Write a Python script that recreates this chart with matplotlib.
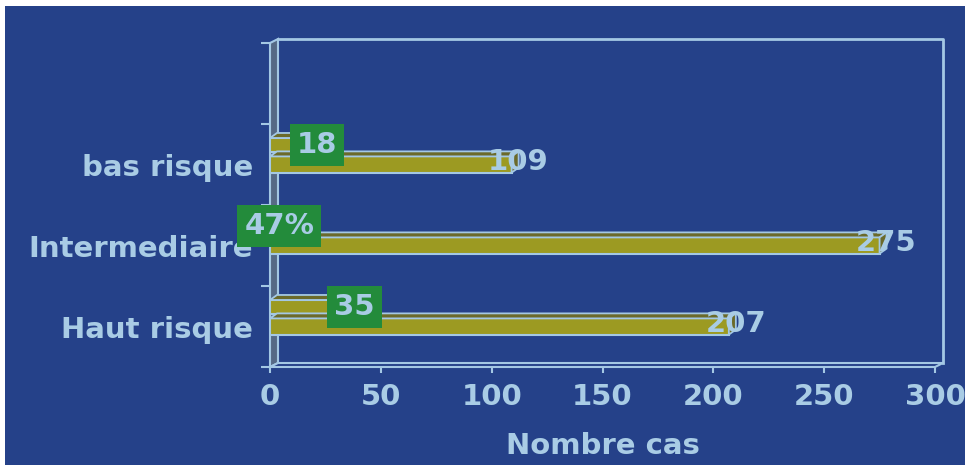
import numpy as np
import matplotlib
matplotlib.use("Agg")
import matplotlib.pyplot as plt
from matplotlib.patches import Polygon, Rectangle

# ---- data ----
categories = ["Haut risque", "Intermediaire", "bas risque"]
totals = [207, 275, 109]
sub_values = [35, 1, 18]
sub_labels = ["35", "47%", "18"]
xticks = [0, 50, 100, 150, 200, 250, 300]
xlabel = "Nombre cas"

# ---- style ----
BG = "#254189"
LINE = "#a4c8e4"
TXT = "#a9cce5"
OLIVE = "#9c9a22"
OLIVE_DK = "#6b6a2a"
GREEN = "#238b3b"
WALL = "#566a86"

plt.rcParams["font.family"] = ["DejaVu Sans"]
plt.rcParams["font.weight"] = "bold"

W, H = 965, 465
fig = plt.figure(figsize=(W / 100, H / 100), dpi=100, facecolor=BG)
fig.patches.append(Rectangle((0, 1 - 6 / H), 1, 6 / H, transform=fig.transFigure,
                             facecolor="white", edgecolor="none", zorder=10))
fig.patches.append(Rectangle((0, 0), 5 / W, 1, transform=fig.transFigure,
                             facecolor="white", edgecolor="none", zorder=10))

ax = fig.add_axes([270 / W, (H - 367) / H, (935 - 270) / W, (367 - 43) / H])
ax.set_xlim(0, 300)
ax.set_ylim(-0.5, len(categories) + 0.5)
ax.patch.set_visible(False)
for s in ax.spines.values():
    s.set_visible(False)


def off(x, y, dx, dy):
    px, py = ax.transData.transform((x, y))
    return tuple(ax.transData.inverted().transform((px + dx, py + dy)))


# ---- 3D frame ----
DX, DY = 8, 4
x0, x1 = ax.get_xlim()
y0, y1 = ax.get_ylim()
lw_poly = Polygon([(x0, y0), (x0, y1), off(x0, y1, DX, DY), off(x0, y0, DX, DY)],
                  closed=True, facecolor=WALL, edgecolor=LINE, lw=1.5, zorder=1, clip_on=False)
ax.add_patch(lw_poly)
fl_poly = Polygon([(x0, y0), (x1, y0), off(x1, y0, DX, DY), off(x0, y0, DX, DY)],
                  closed=True, facecolor=BG, edgecolor=LINE, lw=1.5, zorder=1, clip_on=False)
ax.add_patch(fl_poly)
bl = off(x0, y1, DX, DY)
tr = off(x1, y1, DX, DY)
br = off(x1, y0, DX, DY)
ax.plot([bl[0], tr[0], br[0]], [bl[1], tr[1], br[1]], color=LINE, lw=2, zorder=1, clip_on=False)

# ---- bars ----
pos = np.arange(len(categories))
main = ax.barh(pos, totals, height=0.2, color=OLIVE, edgecolor=LINE, lw=1.5, zorder=3)
sub = ax.barh(pos + 0.24, sub_values, height=0.175, color=OLIVE, edgecolor=LINE, lw=1.5, zorder=2)

BDX, BDY = 7, 5
for bars, z in ((sub, 2), (main, 3)):
    for r in bars:
        bx0, by0 = r.get_x(), r.get_y()
        bx1, by1 = bx0 + r.get_width(), by0 + r.get_height()
        top = Polygon([(bx0, by1), (bx1, by1), off(bx1, by1, BDX, BDY), off(bx0, by1, BDX, BDY)],
                      closed=True, facecolor=OLIVE_DK, edgecolor=LINE, lw=1.3, zorder=z)
        side = Polygon([(bx1, by0), (bx1, by1), off(bx1, by1, BDX, BDY), off(bx1, by0, BDX, BDY)],
                       closed=True, facecolor=OLIVE_DK, edgecolor=LINE, lw=1.3, zorder=z)
        ax.add_patch(top)
        ax.add_patch(side)

FS = 21
for r, v in zip(main, totals):
    ax.annotate(str(v), (v, r.get_y() + r.get_height() / 2), xytext=(5, 2),
                textcoords="offset points", ha="center", va="center",
                color=TXT, fontsize=FS, fontweight="bold", zorder=6)
for r, lab in zip(sub, sub_labels):
    ax.annotate(lab, (r.get_width(), r.get_y() + r.get_height() / 2), xytext=(5, 0),
                textcoords="offset points", ha="center", va="center",
                color=TXT, fontsize=FS, fontweight="bold", zorder=7,
                bbox=dict(boxstyle="square,pad=0.24", facecolor=GREEN, edgecolor="none"))

# ---- axes ticks ----
ax.set_xticks(xticks)
ax.set_xticklabels([str(t) for t in xticks])
ax.tick_params(axis="x", colors=LINE, labelcolor=TXT, length=4.5, width=1.5,
               labelsize=FS, pad=7)
ax.set_yticks(np.arange(-0.5, len(categories) + 0.6, 1.0))
ax.set_yticklabels([])
ax.set_yticks(pos, minor=True)
ax.set_yticklabels(categories, minor=True)
ax.tick_params(axis="y", which="major", colors=LINE, length=6.5, width=1.5)
ax.tick_params(axis="y", which="minor", length=0, labelcolor=TXT, labelsize=FS, pad=12)
ax.set_xlabel(xlabel, color=TXT, fontsize=FS, fontweight="bold", labelpad=15)

fig.savefig("out.png", dpi=100, facecolor=BG)
